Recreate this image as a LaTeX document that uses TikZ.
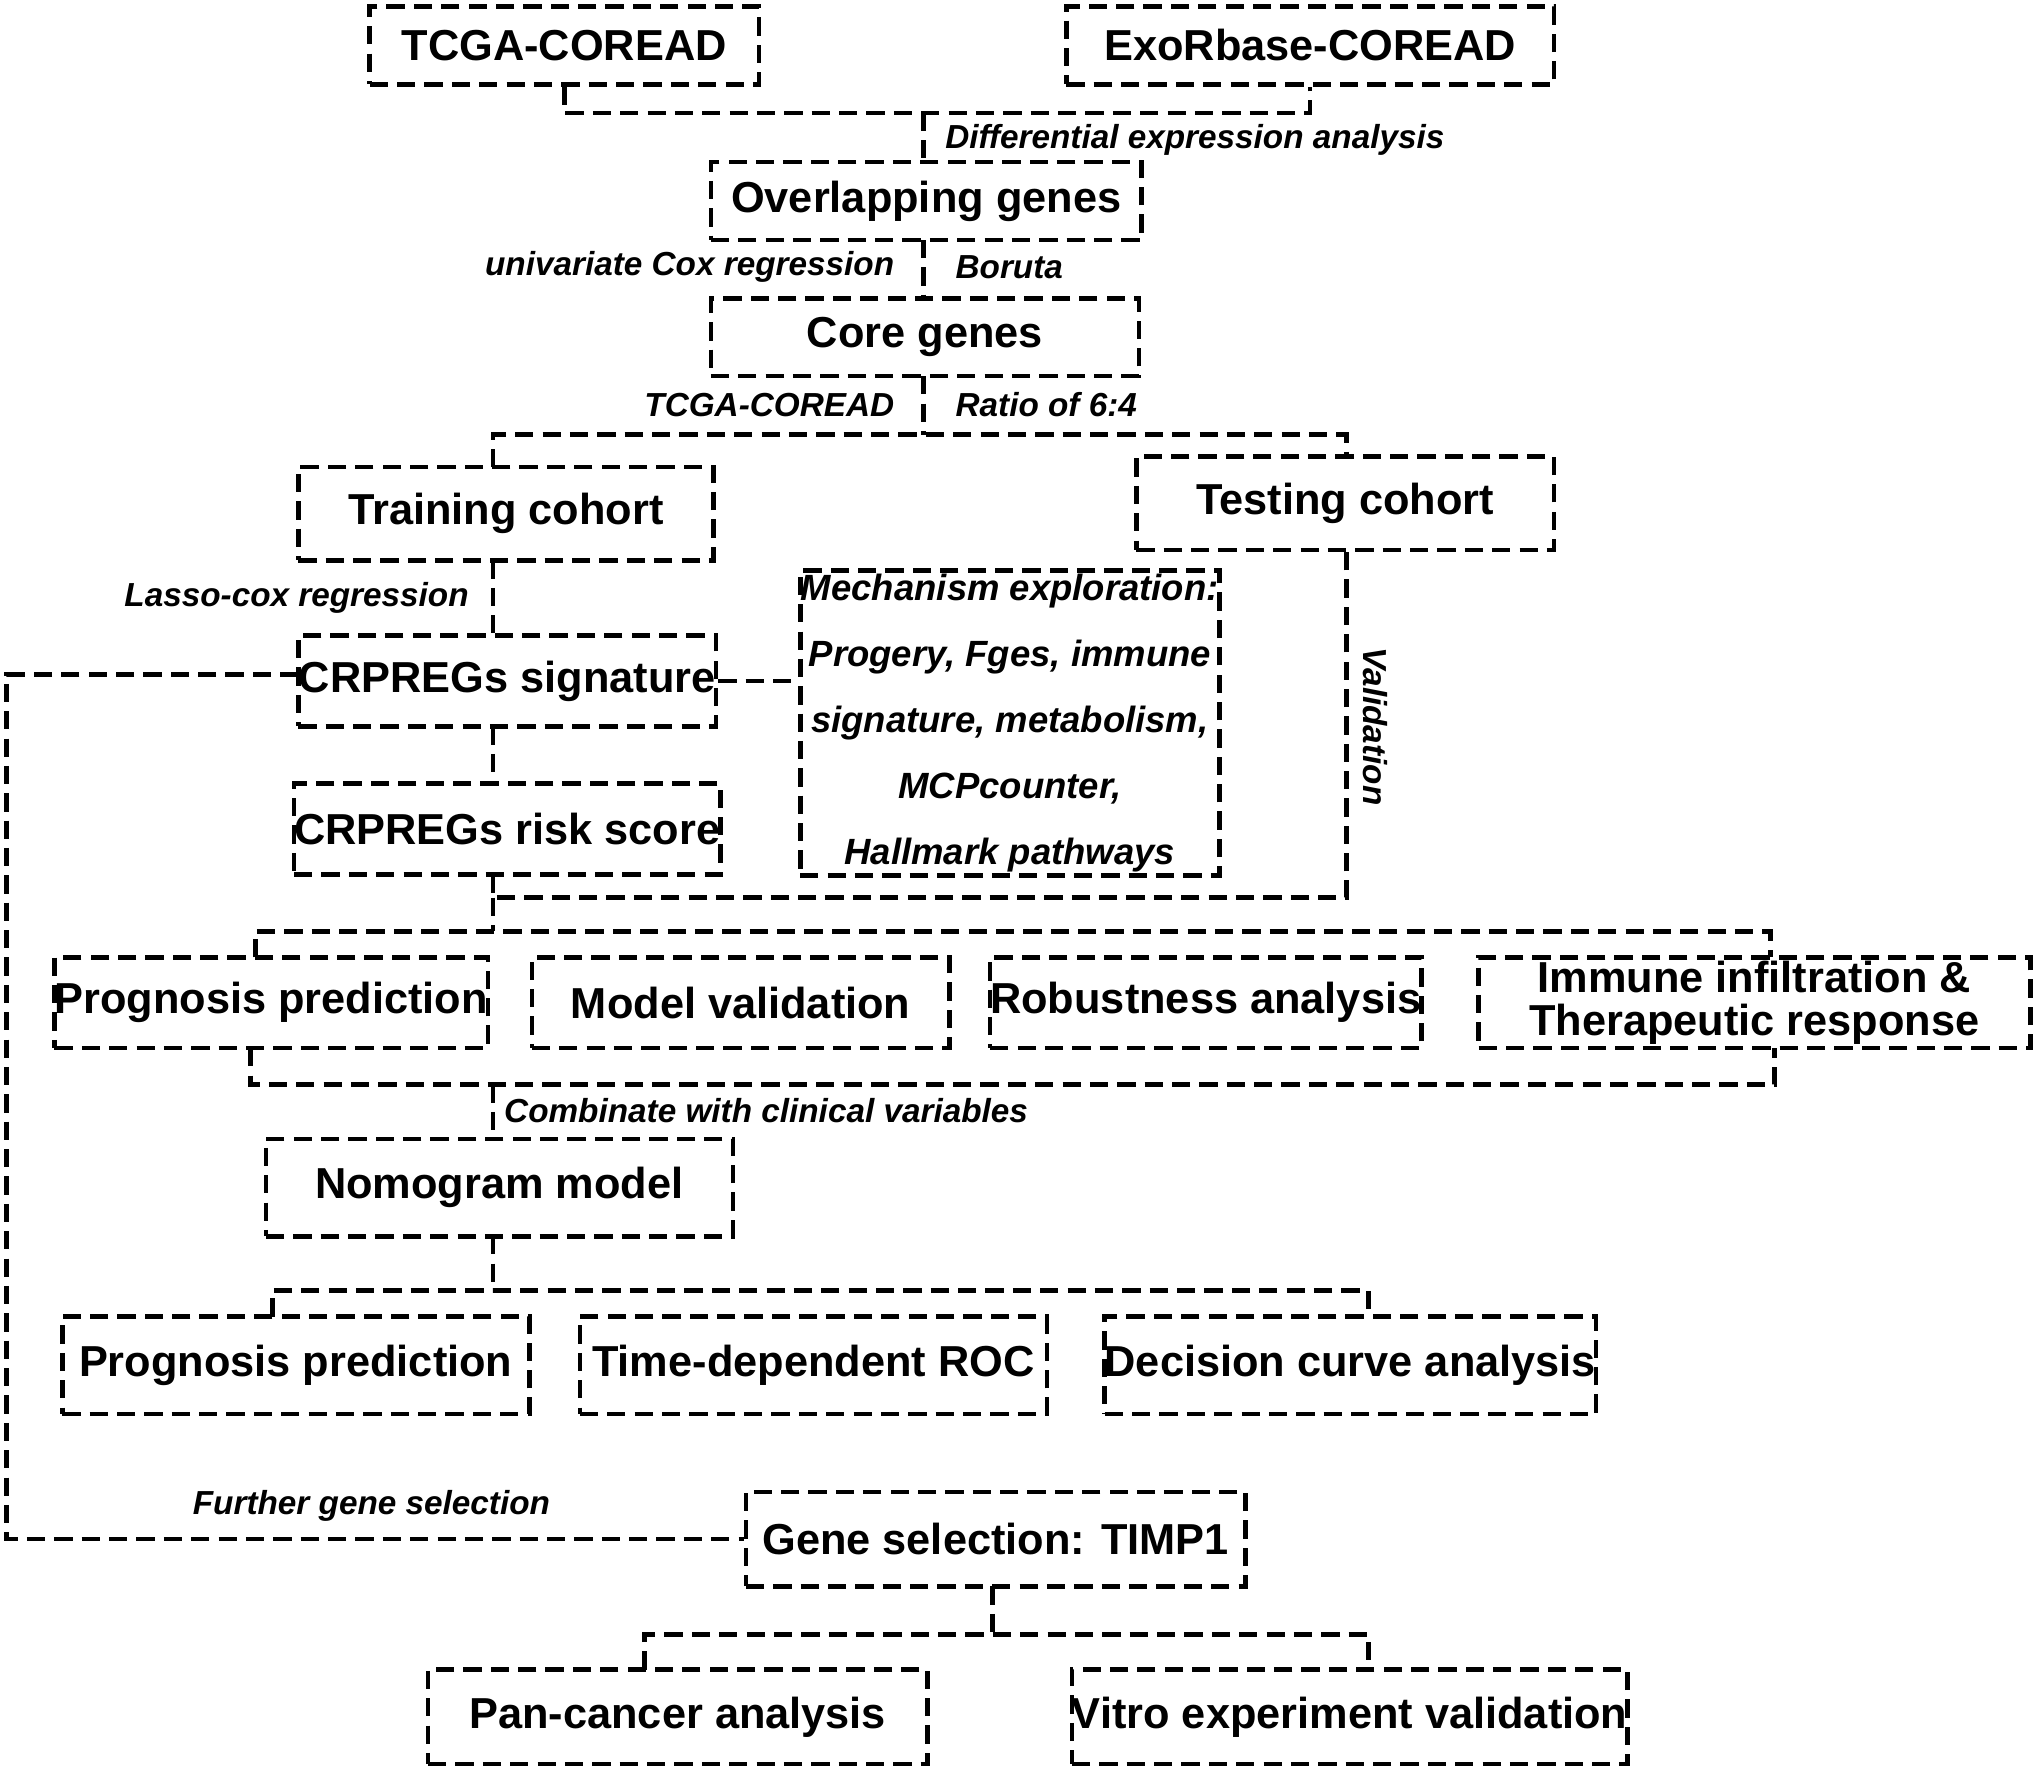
\documentclass[tikz,border=0pt]{standalone}
\usepackage{fontspec}
\setmainfont{Liberation Sans}
\begin{document}
\begin{tikzpicture}[x=0.01cm,y=-0.01cm,
  box/.style={draw,line width=1pt,dash pattern=on 4pt off 2pt,inner sep=0pt,font=\bfseries\fontsize{9.5}{10.5}\selectfont,align=center},
  ln/.style={draw,line width=1pt,dash pattern=on 4pt off 2pt},
  lab/.style={font=\bfseries\itshape\fontsize{7.3}{8}\selectfont,inner sep=0pt}]
\useasboundingbox (0,0) rectangle (1568,1365);
\newcommand{\bx}[6]{\node[box,minimum width={(#3-#2)*0.01cm},minimum height={(#5-#4)*0.01cm}] (#1) at ({(#2+#3)/2},{(#4+#5)/2}) {#6};}
\bx{tcga}{285}{585}{5}{65}{TCGA-COREAD}
\bx{exo}{822}{1198}{5}{65}{ExoRbase-COREAD}
\bx{ovl}{548}{880}{125}{185}{Overlapping genes}
\bx{core}{548}{878}{230}{290}{Core genes}
\bx{train}{230}{550}{360}{432}{Training cohort}
\bx{test}{876}{1198}{352}{424}{Testing cohort}
\bx{sig}{230}{552}{490}{560}{CRPREGs signature}
\bx{risk}{230}{552}{604}{674}{CRPREGs risk score}
\node[box,minimum width=3.23cm,minimum height=2.35cm,font=\bfseries\itshape\fontsize{8}{14.5}\selectfont] (mech) at (778.5,557.5) {Mechanism exploration:\\Progery, Fges, immune\\signature, metabolism,\\MCPcounter,\\Hallmark pathways};
\bx{p1}{48}{370}{738}{808}{Prognosis prediction}
\bx{mv}{410}{732}{738}{808}{Model validation}
\bx{rob}{769}{1090}{738}{808}{Robustness analysis}
\node[box,minimum width=4.25cm,minimum height=0.7cm,font=\bfseries\fontsize{9.5}{9.5}\selectfont] (imm) at (1352.5,773) {Immune infiltration \&\\Therapeutic response};
\bx{nomo}{205}{565}{878}{953}{Nomogram model}
\bx{p2}{48}{408}{1015}{1090}{Prognosis prediction}
\bx{roc}{447}{807}{1015}{1090}{Time-dependent ROC}
\bx{dca}{860}{1222}{1015}{1090}{Decision curve analysis}
\bx{gs}{575}{960}{1150}{1223}{Gene selection: TIMP1}
\bx{pan}{330}{715}{1287}{1360}{Pan-cancer analysis}
\bx{vit}{828}{1253}{1287}{1360}{Vitro experiment validation}
% connectors
\coordinate (c1) at (712,87);
\draw[ln] (tcga.south) |- (c1) -| (exo.south);
\draw[ln] (c1) -- (c1|-ovl.north);
\node[lab,anchor=west] (l1) at (728,108) {Differential expression analysis};
\draw[ln] (712,185) -- (712,230);
\node[lab,anchor=east] (l2) at (690,206) {univariate Cox regression};
\node[lab,anchor=west] (l3) at (736,206) {Boruta};
\coordinate (c2) at (712,335);
\draw[ln] (712,290) -- (c2);
\node[lab,anchor=east] (l4) at (690,312) {TCGA-COREAD};
\node[lab,anchor=west] (l5) at (736,312) {Ratio of 6:4};
\draw[ln] (380,360) |- (c2) -| (1038,352);
\draw[ln] (380,432) -- (380,490);
\node[lab,anchor=east] (l6) at (362,461) {Lasso-cox regression};
\draw[ln] (sig.east) -- (sig.east-|mech.west);
\draw[ln] (380,560) -- (380,604);
\coordinate (c3) at (5,520);
\draw[ln] (230,520) -- (c3) |- (gs.west);
\node[lab,anchor=west] (l7) at (148,1161) {Further gene selection};
\coordinate (c4) at (380,692);
\draw[ln] (380,674) -- (c4) -| (1038,424);
\node[lab,rotate=-90] (l8) at (1060,560) {Validation};
\coordinate (c5) at (380,718);
\draw[ln] (c4) -- (c5);
\draw[ln] (197,738) |- (c5) -| (1365,738);
\coordinate (c6) at (380,836);
\draw[ln] (193,808) |- (c6) -| (1368,808);
\draw[ln] (c6) -- (380,878);
\node[lab,anchor=west] (l9) at (388,856) {Combinate with clinical variables};
\coordinate (c7) at (380,995);
\draw[ln] (380,953) -- (c7);
\draw[ln] (210,1015) |- (c7) -| (1055,1015);
\coordinate (c8) at (765,1260);
\draw[ln] (765,1223) -- (c8);
\draw[ln] (497,1287) |- (c8) -| (1055,1287);
\end{tikzpicture}
\end{document}
